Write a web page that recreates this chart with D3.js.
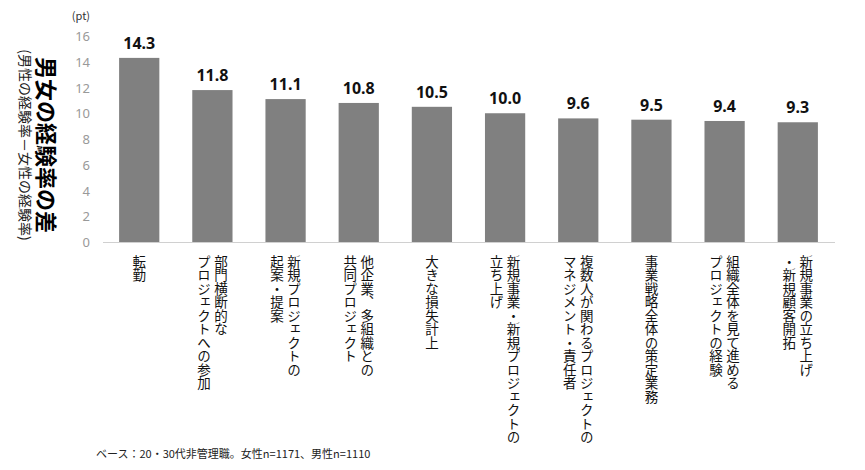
<!DOCTYPE html><html><head><meta charset="utf-8"><script src="https://cdn.jsdelivr.net/npm/d3@7"></script>
<style>body{margin:0;background:#fff;font-family:"Noto Sans CJK JP",sans-serif}</style></head><body><svg id="c" width="865" height="470"></svg>
<script>
const categories=[["転勤"],["部門横断的な","プロジェクトへの参加"],["新規プロジェクトの","起案・提案"],["他企業、多組織との","共同プロジェクト"],["大きな損失計上"],["新規事業・新規プロジェクトの","立ち上げ"],["複数人が関わるプロジェクトの","マネジメント・責任者"],["事業戦略全体の策定業務"],["組織全体を見て進める","プロジェクトの経験"],["新規事業の立ち上げ","・新規顧客開拓"]];
const values=[14.3,11.8,11.1,10.8,10.5,10.0,9.6,9.5,9.4,9.3];
const yTicks=[0,2,4,6,8,10,12,14,16];
const svg=d3.select("#c");
const x=d3.scaleBand().domain(d3.range(values.length)).range([103,834]).paddingInner(0.45).paddingOuter(0.22);
const y=d3.scaleLinear().domain([0,16]).range([242,36]);
svg.selectAll(".t").data(yTicks).join("text").attr("x",90).attr("y",d=>y(d)+5).attr("text-anchor","end").attr("fill","#999").attr("font-size",13).attr("font-family","Noto Sans").text(d=>d);
svg.append("text").attr("x",90).attr("y",20).attr("text-anchor","end").attr("font-size",11).attr("fill","#333").text("(pt)");
svg.selectAll(".b").data(values).join("rect").attr("x",(d,i)=>x(i)).attr("width",x.bandwidth()).attr("y",d=>y(d)).attr("height",d=>y(0)-y(d)).attr("fill","#808080");
svg.append("line").attr("x1",103).attr("x2",835).attr("y1",242.5).attr("y2",242.5).attr("stroke","#d0d0d0");
svg.selectAll(".v").data(values).join("text").attr("x",(d,i)=>x(i)+x.bandwidth()/2).attr("y",d=>y(d)-9).attr("text-anchor","middle").attr("font-weight","bold").attr("font-size",16).attr("font-family","Noto Sans").attr("fill","#111").text(d=>d.toFixed(1));
categories.forEach((lines,i)=>{
  const cx=x(i)+x.bandwidth()/2, n=lines.length;
  lines.forEach((l,j)=>{
    const lx=cx+((n-1)/2-j)*17;
    svg.append("text").attr("x",lx).attr("y",255).attr("font-size",13.5).attr("fill","#111").style("writing-mode","vertical-rl").style("text-orientation","upright").text(l);
  });
});
svg.append("text").attr("transform","translate(30,142) rotate(90)").attr("text-anchor","middle").attr("font-size",22).attr("font-weight","bold").attr("dy","0.35em").attr("x",0).attr("y",-0).attr("transform","translate(46,145) rotate(90)").text("男女の経験率の差");
svg.append("text").attr("transform","translate(25,145) rotate(90)").attr("text-anchor","middle").attr("dy","0.35em").attr("font-size",14).attr("fill","#222").text("(男性の経験率－女性の経験率)");
svg.append("text").attr("x",96).attr("y",458).attr("font-size",11).attr("fill","#222").text("ベース：20・30代非管理職。女性n=1171、男性n=1110");
</script></body></html>
